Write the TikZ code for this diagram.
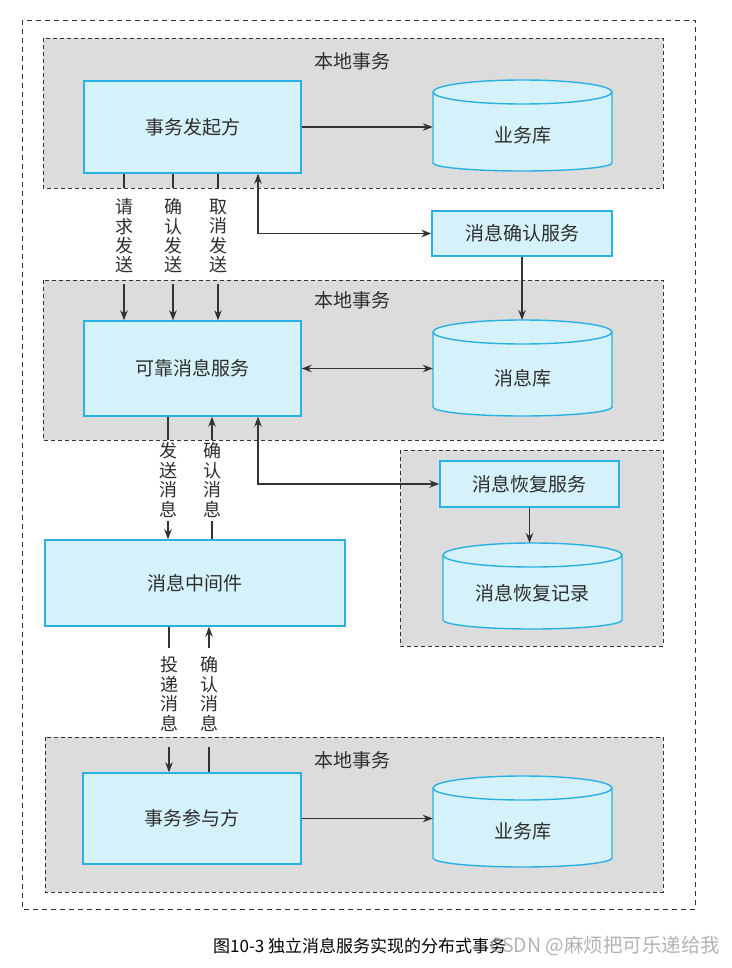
\documentclass[tikz,border=0pt]{standalone}
\usepackage{fontspec}
\setmainfont{Noto Sans CJK SC}
\usetikzlibrary{arrows.meta,calc}
\definecolor{grayfill}{HTML}{DCDCDC}
\definecolor{boxfill}{HTML}{D5F1FA}
\definecolor{boxline}{HTML}{2BB0E4}
\definecolor{ink}{HTML}{333333}
\definecolor{txt}{HTML}{2E2E2E}
\begin{document}
\begin{tikzpicture}[x=1pt,y=1pt,
  grp/.style={draw=ink, fill=grayfill, dash pattern=on 4pt off 3pt, line width=0.9pt},
  outerbox/.style={draw=ink, dash pattern=on 5pt off 4pt, line width=0.8pt},
  box/.style={draw=boxline, fill=boxfill, line width=1.4pt, inner sep=0, text=txt, font=\fontsize{19}{22}\selectfont},
  cyl/.style={draw=boxline, fill=boxfill, line width=1.4pt},
  vlab/.style={inner sep=0, align=center, text=txt, font=\fontsize{18}{19.4}\selectfont},
  ttl/.style={text=txt, font=\fontsize{19}{22}\selectfont, inner sep=0},
  ln/.style={draw=ink, line width=1.2pt},
  arr/.style={ln, -{Stealth[length=10pt,width=7.5pt]}},
  darr/.style={ln, {Stealth[length=10pt,width=7.5pt]}-{Stealth[length=10pt,width=7.5pt]}},
]
\useasboundingbox (0,0) rectangle (731,-968);
\fill[white] (0,0) rectangle (731,-968);
\draw[outerbox] (22,-20) rectangle (695,-909);

% local transaction groups
\draw[grp] (43,-38) rectangle (663,-188);
\draw[grp] (43,-280) rectangle (663,-440);
\draw[grp] (400,-450) rectangle (663,-646);
\draw[grp] (45,-737) rectangle (663,-892);
\node[ttl] (g1) at (352,-61) {本地事务};
\node[ttl] (g2) at (352,-300) {本地事务};
\node[ttl] (g4) at (352,-760) {本地事务};

% cylinders
\filldraw[cyl] (433,-92) -- (433,-163) arc[start angle=180,end angle=360,x radius=89.5,y radius=8] -- (612,-92) arc[start angle=0,end angle=180,x radius=89.5,y radius=12] -- cycle;
\draw[boxline, line width=1.4pt] (433,-92) arc[start angle=180,end angle=360,x radius=89.5,y radius=12];
\node[ttl, minimum width=179, minimum height=59] (db1) at (522.5,-135) {业务库};

\filldraw[cyl] (433,-332) -- (433,-407) arc[start angle=180,end angle=360,x radius=89.5,y radius=9] -- (612,-332) arc[start angle=0,end angle=180,x radius=89.5,y radius=12] -- cycle;
\draw[boxline, line width=1.4pt] (433,-332) arc[start angle=180,end angle=360,x radius=89.5,y radius=12];
\node[ttl, minimum width=179, minimum height=60] (db2) at (522.5,-378) {消息库};
\coordinate (db2top) at (522,-320);

\filldraw[cyl] (443,-555) -- (443,-620) arc[start angle=180,end angle=360,x radius=89.5,y radius=9] -- (622,-555) arc[start angle=0,end angle=180,x radius=89.5,y radius=12] -- cycle;
\draw[boxline, line width=1.4pt] (443,-555) arc[start angle=180,end angle=360,x radius=89.5,y radius=12];
\node[ttl, minimum width=179, minimum height=50] (db3) at (532.5,-593) {消息恢复记录};
\coordinate (db3top) at (529.5,-543);

\filldraw[cyl] (433,-788) -- (433,-858) arc[start angle=180,end angle=360,x radius=89.5,y radius=9] -- (612,-788) arc[start angle=0,end angle=180,x radius=89.5,y radius=12] -- cycle;
\draw[boxline, line width=1.4pt] (433,-788) arc[start angle=180,end angle=360,x radius=89.5,y radius=12];
\node[ttl, minimum width=179, minimum height=55] (db4) at (522.5,-831) {业务库};

% boxes
\node[box, minimum width=217, minimum height=92] (A) at (192.5,-127) {事务发起方};
\node[box, minimum width=217, minimum height=95] (B) at (192.5,-368.5) {可靠消息服务};
\node[box, minimum width=300, minimum height=86] (M) at (195,-583) {消息中间件};
\node[box, minimum width=218, minimum height=91] (P) at (192,-818.5) {事务参与方};
\node[box, minimum width=180, minimum height=45] (C) at (522,-233.5) {消息确认服务};
\node[box, minimum width=179, minimum height=46] (R) at (529.5,-484) {消息恢复服务};
\coordinate (xk) at (258,0);

% vertical labels
\node[vlab] (t1) at (124,-236) {请\\求\\发\\送};
\node[vlab] (t2) at (173,-236) {确\\认\\发\\送};
\node[vlab] (t3) at (218,-236) {取\\消\\发\\送};
\node[vlab] (m1) at (168,-480) {发\\送\\消\\息};
\node[vlab] (m2) at (212,-480) {确\\认\\消\\息};
\node[vlab] (b1) at (169,-694) {投\\递\\消\\息};
\node[vlab] (b2) at (209,-694) {确\\认\\消\\息};

% connectors
\draw[arr] (A.east) -- (A.east -| db1.west);
\draw[darr] (A.south -| xk) |- (C.west);
\draw[arr] (C.south) -- (db2top);
\draw[darr] (B.east) -- (B.east -| db2.west);
\draw[darr] (B.south -| xk) |- (R.west);
\draw[arr] (R.south) -- (db3top);
\draw[arr] (P.east) -- (P.east -| db4.west);

\foreach \t in {t1,t2,t3}{
  \draw[ln] (A.south -| \t) -- ([yshift=10.5pt]\t.north);
  \draw[arr] ([yshift=-10.5pt]\t.south) -- (B.north -| \t);
}
\draw[ln] (B.south -| m1) -- ([yshift=2.5pt]m1.north);
\draw[arr] ([yshift=-4pt]m1.south) -- (M.north -| m1);
\draw[arr] ([yshift=2.5pt]m2.north) -- (B.south -| m2);
\draw[ln] ([yshift=-4pt]m2.south) -- (M.north -| m2);

\draw[ln] (M.south -| b1) -- ([yshift=8.5pt]b1.north);
\draw[arr] ([yshift=-15.5pt]b1.south) -- (P.north -| b1);
\draw[arr] ([yshift=8.5pt]b2.north) -- (M.south -| b2);
\draw[ln] ([yshift=-15.5pt]b2.south) -- (P.north -| b2);

% caption and watermark
\node[anchor=west, inner sep=0, font=\fontsize{17}{19}\selectfont, text=black] (cap) at (213,-946) {图10-3 独立消息服务实现的分布式事务};
\node[anchor=west, inner sep=0, font=\fontsize{19.5}{22}\selectfont, text=black!35, opacity=0.85] (wm) at (490,-946) {CSDN @麻烦把可乐递给我};
\end{tikzpicture}
\end{document}
